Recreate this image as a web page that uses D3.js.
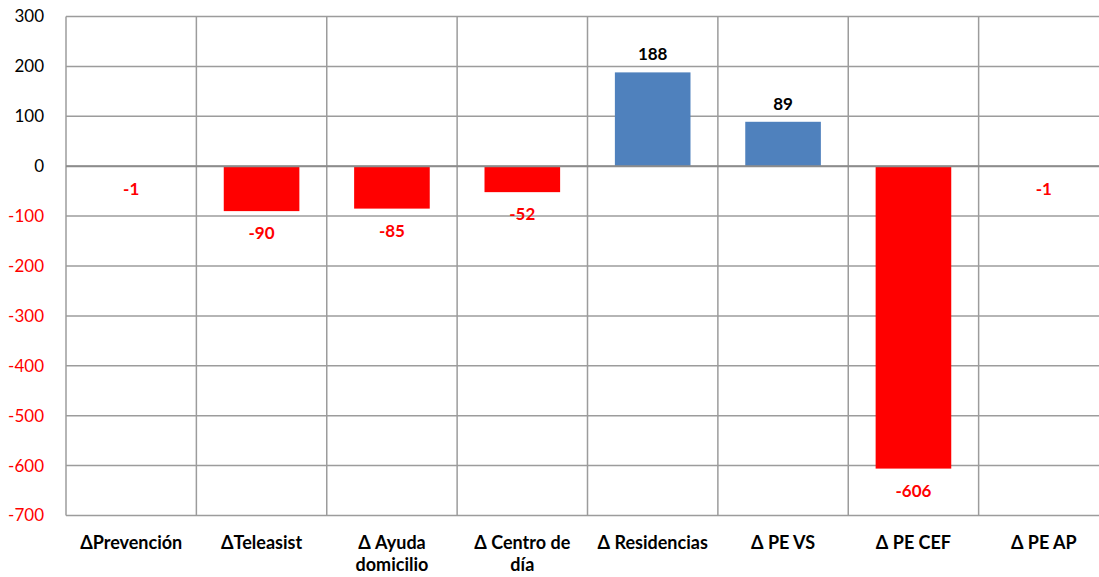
<!DOCTYPE html>
<html>
<head>
<meta charset="utf-8">
<script src="https://cdn.jsdelivr.net/npm/d3@7"></script>
<style>
  body { margin: 0; background: #fff; }
  svg { display: block; }
</style>
</head>
<body>
<script>
// data
var categories = ["ΔPrevención", "ΔTeleasist", "Δ Ayuda\ndomicilio", "Δ Centro de\ndía",
                  "Δ Residencias", "Δ PE VS", "Δ PE CEF", "Δ PE AP"];
var values = [-1, -90, -85, -52, 188, 89, -606, -1];
var yTicks = [300, 200, 100, 0, -100, -200, -300, -400, -500, -600, -700];

var width = 1099,
    height = 577;

// plot box (the last column runs past the right edge, as in the original)
var plotLeft = 66, plotRight = 1109, plotTop = 16.5, plotBottom = 515.5;

var svg = d3.select("body").append("svg")
    .attr("width", width)
    .attr("height", height);

var x = d3.scaleBand()
    .domain(d3.range(categories.length))
    .range([plotLeft, plotRight])
    .paddingInner(0.42)
    .paddingOuter(0.21);

var y = d3.scaleLinear()
    .domain([-700, 300])
    .range([plotBottom, plotTop]);

var step = x.step();

// horizontal grid
svg.append("g").selectAll("line")
    .data(yTicks)
  .enter().append("line")
    .attr("x1", plotLeft).attr("x2", plotRight)
    .attr("y1", d => y(d)).attr("y2", d => y(d))
    .attr("stroke", "#9c9c9c")
    .attr("stroke-width", 1.5);

// vertical grid at category boundaries
svg.append("g").selectAll("line")
    .data(d3.range(categories.length + 1))
  .enter().append("line")
    .attr("x1", i => plotLeft + i * step).attr("x2", i => plotLeft + i * step)
    .attr("y1", plotTop).attr("y2", plotBottom)
    .attr("stroke", "#9c9c9c")
    .attr("stroke-width", 1.5);

// bars
svg.append("g").selectAll("rect")
    .data(values)
  .enter().append("rect")
    .attr("x", (d, i) => x(i))
    .attr("width", x.bandwidth())
    .attr("y", d => y(Math.max(0, d)))
    .attr("height", d => Math.abs(y(d) - y(0)))
    .attr("fill", d => d < 0 ? "#ff0000" : "#4f81bd");

// zero line on top
svg.append("line")
    .attr("x1", plotLeft).attr("x2", plotRight)
    .attr("y1", y(0)).attr("y2", y(0))
    .attr("stroke", "#8c8c8c")
    .attr("stroke-width", 2);

var font = "Lato, 'Open Sans', sans-serif";

// value labels
svg.append("g").selectAll("text")
    .data(values)
  .enter().append("text")
    .attr("x", (d, i) => x(i) + x.bandwidth() / 2)
    .attr("y", d => d < 0 ? y(d) + 22 : y(d) - 18)
    .attr("dy", "0.35em")
    .attr("text-anchor", "middle")
    .style("font-family", font)
    .style("font-weight", "bold")
    .style("font-size", "17px")
    .attr("fill", d => d < 0 ? "#ff0000" : "#000")
    .text(d => d);

// y tick labels
svg.append("g").selectAll("text")
    .data(yTicks)
  .enter().append("text")
    .attr("x", 44)
    .attr("y", d => y(d))
    .attr("dy", "0.35em")
    .attr("text-anchor", "end")
    .style("font-family", font)
    .style("font-size", "17px")
    .attr("fill", d => d < 0 ? "#ff0000" : "#000")
    .text(d => d);

// category labels
var cat = svg.append("g").selectAll("text")
    .data(categories)
  .enter().append("text")
    .attr("text-anchor", "middle")
    .style("font-family", font)
    .style("font-weight", "bold")
    .style("font-size", "18px")
    .attr("fill", "#000");

cat.each(function(d, i) {
    var t = d3.select(this);
    d.split("\n").forEach(function(line, j) {
        t.append("tspan")
            .attr("x", plotLeft + i * step + step / 2)
            .attr("y", 543 + j * 22)
            .attr("dy", "0.35em")
            .text(line);
    });
});
</script>
</body>
</html>
